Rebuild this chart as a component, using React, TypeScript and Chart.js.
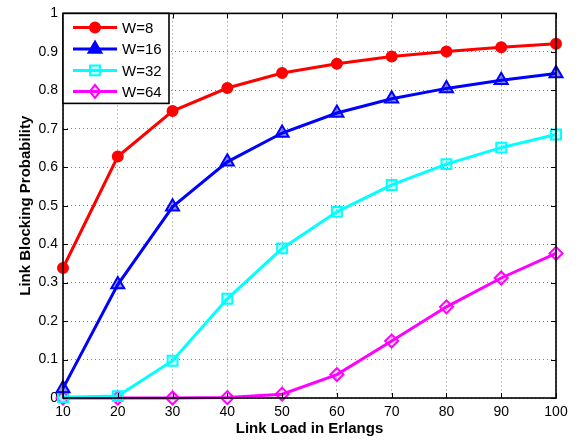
import React, { useEffect, useRef } from "react";
import { Chart, registerables } from "chart.js";

Chart.register(...registerables);

// ---- data ----
const loads = [10, 20, 30, 40, 50, 60, 70, 80, 90, 100];
const w8 = [0.338, 0.628, 0.746, 0.806, 0.845, 0.869, 0.888, 0.901, 0.912, 0.921];
const w16 = [0.025, 0.295, 0.497, 0.614, 0.689, 0.741, 0.778, 0.805, 0.826, 0.844];
const w32 = [0.002, 0.005, 0.097, 0.258, 0.389, 0.484, 0.554, 0.608, 0.651, 0.685];
const w64 = [0.0, 0.0, 0.0, 0.001, 0.01, 0.061, 0.148, 0.237, 0.312, 0.376];
const seriesNames = ["W=8", "W=16", "W=32", "W=64"];
const xTickLabels = ["10", "20", "30", "40", "50", "60", "70", "80", "90", "100"];
const yTickLabels = ["0", "0.1", "0.2", "0.3", "0.4", "0.5", "0.6", "0.7", "0.8", "0.9", "1"];
const xTitle = "Link Load in Erlangs";
const yTitle = "Link Blocking Probability";

const FONT = "'Liberation Sans', Arial, Helvetica, sans-serif";
const colors = ["#ff0000", "#0000ff", "#00ffff", "#ff00ff"];
const styles = ["circle", "triangle", "rect", "rectRot"];
const radii = [5, 7.5, 7, 6.5];
const fills = ["#ff0000", "rgba(0,0,255,0.45)", "rgba(0,255,255,0.25)", "rgba(255,0,255,0.15)"];

function drawMarker(ctx: CanvasRenderingContext2D, style: string, x: number, y: number, r: number, stroke: string, fill: string) {
  ctx.save();
  ctx.beginPath();
  if (style === "circle") {
    ctx.arc(x, y, r, 0, Math.PI * 2);
  } else if (style === "triangle") {
    const h = r;
    ctx.moveTo(x, y - h);
    ctx.lineTo(x + h * 0.866, y + h * 0.5);
    ctx.lineTo(x - h * 0.866, y + h * 0.5);
    ctx.closePath();
  } else if (style === "rect") {
    const s = r * Math.SQRT1_2;
    ctx.rect(x - s, y - s, 2 * s, 2 * s);
  } else {
    ctx.moveTo(x, y - r);
    ctx.lineTo(x + r * 0.8, y);
    ctx.lineTo(x, y + r);
    ctx.lineTo(x - r * 0.8, y);
    ctx.closePath();
  }
  ctx.fillStyle = fill;
  ctx.fill();
  ctx.lineWidth = 2;
  ctx.strokeStyle = stroke;
  ctx.stroke();
  ctx.restore();
}

const frameAndLegend = {
  id: "frameAndLegend",
  afterDraw(chart: any) {
    const { ctx, chartArea } = chart;
    const { left, right, top, bottom } = chartArea;
    const xs = chart.scales.x;
    const ys = chart.scales.y;
    ctx.save();
    // inward ticks
    ctx.strokeStyle = "#000";
    ctx.lineWidth = 1;
    const tl = 5;
    xs.ticks.forEach((t: any) => {
      const px = Math.round(xs.getPixelForValue(t.value)) + 0.5;
      ctx.beginPath();
      ctx.moveTo(px, bottom);
      ctx.lineTo(px, bottom - tl);
      ctx.moveTo(px, top);
      ctx.lineTo(px, top + tl);
      ctx.stroke();
    });
    ys.ticks.forEach((t: any) => {
      const py = Math.round(ys.getPixelForValue(t.value)) + 0.5;
      ctx.beginPath();
      ctx.moveTo(left, py);
      ctx.lineTo(left + tl, py);
      ctx.moveTo(right, py);
      ctx.lineTo(right - tl, py);
      ctx.stroke();
    });
    // frame
    ctx.lineWidth = 1.6;
    ctx.strokeRect(left, top, right - left, bottom - top);

    // legend
    const lx = left, ly = top, lw = 106, lh = 90;
    ctx.fillStyle = "#ffffff";
    ctx.fillRect(lx, ly, lw, lh);
    ctx.lineWidth = 1.6;
    ctx.strokeStyle = "#000";
    ctx.strokeRect(lx, ly, lw, lh);
    const rows = [14, 35.5, 57, 78];
    ctx.font = `15px ${FONT}`;
    ctx.textBaseline = "middle";
    ctx.textAlign = "left";
    seriesNames.forEach((name, i) => {
      const yy = ly + rows[i];
      ctx.strokeStyle = colors[i];
      ctx.lineWidth = 3;
      ctx.beginPath();
      ctx.moveTo(lx + 10, yy);
      ctx.lineTo(lx + 54, yy);
      ctx.stroke();
      drawMarker(ctx, styles[i], lx + 32, yy, radii[i], colors[i], i < 2 ? colors[i] : fills[i]);
      ctx.fillStyle = "#000";
      ctx.fillText(name, lx + 59, yy + 1);
    });
    ctx.restore();
  },
};

export default function App() {
  const ref = useRef<HTMLCanvasElement | null>(null);
  useEffect(() => {
    document.body.style.margin = "0";
    const canvas = ref.current!;
    const seriesData = [w8, w16, w32, w64];
    const chart = new Chart(canvas, {
      type: "line",
      data: {
        labels: loads,
        datasets: seriesData.map((vals, i) => ({
          label: seriesNames[i],
          data: loads.map((x, j) => ({ x, y: vals[j] })),
          borderColor: colors[i],
          backgroundColor: colors[i],
          borderWidth: 3,
          pointStyle: styles[i] as any,
          pointRadius: radii[i],
          pointBorderWidth: 2,
          pointBackgroundColor: fills[i],
          pointBorderColor: colors[i],
          tension: 0,
          clip: false as any,
        })),
      },
      options: {
        animation: false,
        responsive: false,
        maintainAspectRatio: false,
        layout: { padding: { top: 11, right: 26, left: 0, bottom: 0 } },
        plugins: { legend: { display: false }, tooltip: { enabled: false } },
        scales: {
          x: {
            type: "linear",
            min: 10,
            max: 100,
            afterFit: (s: any) => { s.height = 42; },
            ticks: {
              stepSize: 10,
              padding: 6,
              color: "#000",
              font: { family: FONT, size: 14 },
              maxRotation: 0,
              callback: (_v: any, i: number) => xTickLabels[i],
            },
            grid: { color: "rgba(0,0,0,0.5)", lineWidth: 1, drawTicks: false },
            border: { display: false, dash: [1, 3] },
            title: {
              display: true,
              text: xTitle,
              color: "#000",
              font: { family: FONT, size: 15, weight: "bold" },
              padding: { top: 0, bottom: 2 },
            },
          },
          y: {
            type: "linear",
            min: 0,
            max: 1,
            afterFit: (s: any) => { s.width = 63; },
            ticks: {
              stepSize: 0.1,
              padding: 5,
              color: "#000",
              font: { family: FONT, size: 14 },
              callback: (_v: any, i: number) => yTickLabels[i],
            },
            grid: { color: "rgba(0,0,0,0.5)", lineWidth: 1, drawTicks: false },
            border: { display: false, dash: [1, 3] },
            title: {
              display: true,
              text: yTitle,
              color: "#000",
              font: { family: FONT, size: 15, weight: "bold" },
              padding: { top: 17, bottom: 0 },
            },
          },
        },
      },
      plugins: [frameAndLegend],
    });
    return () => chart.destroy();
  }, []);
  return (
    <div style={{ width: 582, height: 440, background: "#fff" }}>
      <canvas ref={ref} width={582} height={440} style={{ display: "block" }} />
    </div>
  );
}
